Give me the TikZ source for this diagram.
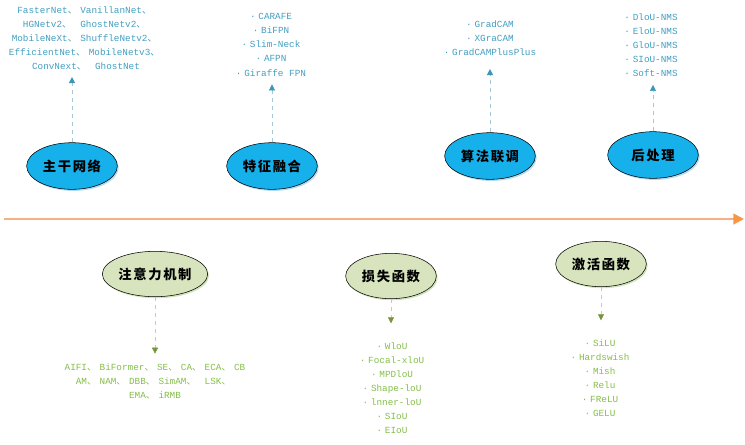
\documentclass[tikz,border=0pt]{standalone}
\usepackage{fontspec}
\setmonofont{Liberation Mono}
\newfontfamily\cjk{Noto Sans CJK SC}
\newfontfamily\cjkhead[LetterSpace=12]{Noto Sans CJK SC}
\usetikzlibrary{arrows.meta,shapes.geometric,shadows}
\definecolor{SkyFill}{RGB}{22,176,235}
\definecolor{SkyGlow}{RGB}{150,205,230}
\definecolor{SageFill}{RGB}{215,228,189}
\definecolor{SageGlow}{RGB}{190,215,160}
\definecolor{TopText}{RGB}{66,158,192}
\definecolor{TopLine}{RGB}{165,200,215}
\definecolor{TopTip}{RGB}{60,150,185}
\definecolor{BotText}{RGB}{132,190,72}
\definecolor{BotLine}{RGB}{200,200,200}
\definecolor{BotTip}{RGB}{119,147,60}
\definecolor{LineOrange}{RGB}{245,177,131}
\definecolor{TipOrange}{RGB}{247,150,70}
\newcommand{\dn}{\makebox[1.35em][l]{\cjk 、}}
\newcommand{\bul}{·\hspace{.3em}}
\tikzset{
    topell/.style={ellipse, draw=black, thin, fill=SkyFill, minimum width=68pt, minimum height=35pt, inner sep=0pt, font=\cjkhead\bfseries\fontsize{10}{11}\selectfont, drop shadow={shadow xshift=1pt, shadow yshift=-1.2pt, fill=SkyGlow, opacity=.7}},
    botell/.style={ellipse, draw=black, thin, fill=SageFill, minimum width=68pt, minimum height=34pt, inner sep=0pt, font=\cjkhead\bfseries\fontsize{10}{11}\selectfont, drop shadow={shadow xshift=1pt, shadow yshift=-1.2pt, fill=SageGlow, opacity=.7}},
    toplist/.style={align=center, inner sep=0pt, text=TopText, font=\ttfamily\fontsize{7}{10.6}\selectfont},
    botlist/.style={align=center, inner sep=0pt, text=BotText, font=\ttfamily\fontsize{7}{10.6}\selectfont},
    topconn/.style={dashed, thin, draw=TopLine, -{Triangle[length=4.5pt, width=4.5pt, color=TopTip]}},
    botconn/.style={dashed, thin, draw=BotLine, -{Triangle[length=4.5pt, width=4.5pt, color=BotTip]}},
    timeline/.style={draw=LineOrange, line width=1.6pt, -{Triangle[length=8pt, width=8pt, color=TipOrange]}},
}
\begin{document}
\begin{tikzpicture}[x=0.75pt, y=-0.75pt]
\useasboundingbox (0,0) rectangle (745,444);

\node[topell] (bb) at (72,166) {主干网络};
\node[topell] (fu) at (272,166) {特征融合};
\node[topell] (al) at (490,156) {算法联调};
\node[topell] (po) at (653,155) {后处理};

\node[botell, minimum width=79pt] (at) at (155,274) {注意力机制};
\node[botell] (lo) at (391,276) {损失函数};
\node[botell] (ac) at (601,264) {激活函数};

\node[toplist, anchor=north] (bbl) at (86,6) {FasterNet\dn VanillanNet\dn\\HGNetv2\dn{} GhostNetv2\dn\\MobileNeXt\dn ShuffleNetv2\dn\\EfficientNet\dn MobileNetv3\dn\\ConvNext\dn{} GhostNet};
\node[toplist, anchor=north] (ful) at (271,13) {\bul CARAFE\\\bul BiFPN\\\bul Slim-Neck\\\bul AFPN\\\bul Giraffe FPN};
\node[toplist, anchor=north] (all) at (490,20) {\bul GradCAM\\\bul XGraCAM\\\bul GradCAMPlusPlus};
\node[toplist, align=left, anchor=north] (pol) at (651,13) {\bul DloU-NMS\\\bul EloU-NMS\\\bul GloU-NMS\\\bul SIoU-NMS\\\bul Soft-NMS};

\node[botlist, anchor=north] (atl) at (155,363) {AIFI\dn BiFormer\dn SE\dn CA\dn ECA\dn CB\\AM\dn NAM\dn DBB\dn SimAM\dn{} LSK\dn\\EMA\dn iRMB};
\node[botlist, anchor=north] (lol) at (392,342) {\bul WloU\\\bul Focal-xloU\\\bul MPDloU\\\bul Shape-loU\\\bul lnner-loU\\\bul SIoU\\\bul EIoU};
\node[botlist, anchor=north] (acl) at (600,339) {\bul SiLU\\\bul Hardswish\\\bul Mish\\\bul Relu\\\bul FReLU\\\bul GELU};

\coordinate (tl) at (4,219);
\coordinate (tr) at (744,219);
\draw[timeline] (tl) -- (tr);

\draw[topconn, shorten >=5pt] (bb.north) -- (bb.north |- bbl.south);
\draw[topconn, shorten >=6pt] (fu.north) -- (fu.north |- ful.south);
\draw[topconn, shorten >=10pt] (al.north) -- (al.north |- all.south);
\draw[topconn, shorten >=6pt] (po.north) -- (po.north |- pol.south);

\draw[botconn, shorten >=7pt] (at.south) -- (at.south |- atl.north);
\draw[botconn, shorten >=14pt] (lo.south) -- (lo.south |- lol.north);
\draw[botconn, shorten >=14pt] (ac.south) -- (ac.south |- acl.north);
\end{tikzpicture}
\end{document}
